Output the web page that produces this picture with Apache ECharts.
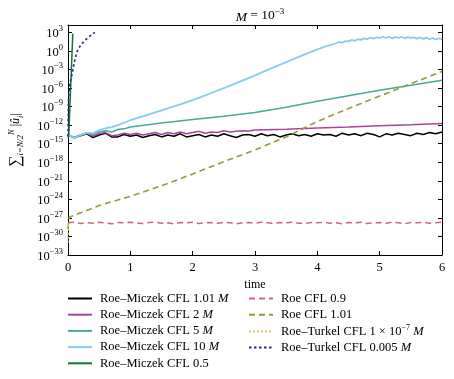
<!DOCTYPE html>
<html><head><meta charset="utf-8">
<script src="https://cdn.jsdelivr.net/npm/echarts@6/dist/echarts.min.js"></script>
<style>html,body{margin:0;padding:0;background:#fff}#c{width:454px;height:379px}</style>
</head><body><div id="c"></div>
<script>
// All values are log10 of sum |u_hat_i|
const tGrid = [0,0.1,0.2,0.3,0.4,0.5,0.6,0.7,0.8,0.9,1.0,1.1,1.2,1.3,1.4,1.5,1.6,1.7,1.8,1.9,2.0,2.1,2.2,2.3,2.4,2.5,2.6,2.7,2.8,2.9,3.0,3.1,3.2,3.3,3.4,3.5,3.6,3.7,3.8,3.9,4.0,4.1,4.2,4.3,4.4,4.5,4.6,4.7,4.8,4.9,5.0,5.1,5.2,5.3,5.4,5.5,5.6,5.7,5.8,5.9,6.0];
const logBlack = [-13.6,-14.1,-13.7,-13.4,-14.0,-13.6,-13.3,-13.9,-13.9,-13.5,-13.8,-13.6,-14.0,-13.7,-13.5,-13.9,-13.6,-13.8,-13.4,-13.9,-13.7,-13.5,-13.9,-13.6,-13.8,-13.4,-13.7,-14.0,-13.6,-13.5,-13.8,-13.4,-13.7,-13.5,-13.9,-13.6,-13.4,-13.7,-13.5,-13.8,-13.4,-13.6,-13.5,-13.8,-13.3,-13.6,-13.4,-13.7,-13.3,-13.5,-13.9,-13.4,-13.6,-13.3,-13.5,-13.7,-13.3,-13.5,-13.2,-13.4,-13.1];
const tMagenta = [0,0.1,0.2,0.3,0.4,0.5,0.6,0.7,0.8,0.9,1.0,1.1,1.2,1.3,1.4,1.5,1.6,1.7,1.8,1.9,2.0,2.1,2.2,2.3,2.4,2.5,2.6,2.7,2.8,2.9,3.0,3.5,4.0,4.5,5.0,5.5,6.0];
const logMagenta = [-13.6,-14.0,-13.6,-13.3,-13.8,-13.4,-13.2,-13.7,-13.6,-13.3,-13.5,-13.3,-13.6,-13.4,-13.2,-13.5,-13.2,-13.4,-13.1,-13.4,-13.2,-13.0,-13.3,-13.1,-13.2,-12.9,-13.1,-13.0,-12.9,-12.95,-12.8,-12.65,-12.45,-12.3,-12.1,-11.95,-11.75];
const tTeal = [0,0.1,0.2,0.3,0.4,0.5,0.6,0.7,0.8,0.9,1.0,1.5,2.0,2.5,3.0,3.5,4.0,4.5,5.0,5.5,6.0];
const logTeal = [-13.6,-14.0,-13.6,-13.3,-13.5,-13.1,-12.9,-13.1,-12.7,-12.6,-12.3,-11.65,-11.1,-10.55,-9.95,-9.1,-8.15,-7.25,-6.35,-5.55,-4.75];
const tCyan = [0,0.1,0.2,0.3,0.4,0.5,0.6,0.7,0.8,1.0,1.25,1.5,1.75,2.0,2.25,2.5,2.75,3.0,3.25,3.5,3.75,4.0,4.15,4.3,4.35,4.4,4.45,4.5,4.55,4.6,4.65,4.7,4.75,4.8,4.85,4.9,4.95,5.0,5.05,5.1,5.15,5.2,5.25,5.3,5.35,5.4,5.45,5.5,5.55,5.6,5.65,5.7,5.75,5.8,5.85,5.9,5.95,6.0];
const logCyan = [-13.5,-14.1,-13.6,-13.2,-13.3,-12.8,-12.5,-12.3,-12.0,-11.2,-10.4,-9.6,-8.8,-7.95,-7.0,-6.0,-5.0,-3.95,-2.85,-1.8,-0.75,0.25,0.8,1.25,1.45,1.35,1.6,1.55,1.8,1.65,1.9,1.8,2.05,1.9,2.15,2.0,2.2,2.1,2.3,2.1,2.3,2.05,2.25,2.1,2.3,2.05,2.25,2.1,2.2,2.0,2.2,1.95,2.15,1.9,2.1,1.85,2.05,1.9];
const tGreen = [0,0.013,0.077];
const logGreen = [-14.0,-13.4,2.8];
const logRose = [-27.8,-27.7,-27.9,-27.75,-27.85,-27.7,-27.8,-27.95,-27.75,-27.8,-27.7,-27.85,-27.9,-27.75,-27.7,-27.85,-27.8,-27.95,-27.75,-27.8,-27.7,-27.9,-27.8,-27.75,-27.85,-27.7,-27.8,-27.95,-27.8,-27.75,-27.85,-27.7,-27.8,-27.9,-27.75,-27.8,-27.7,-27.85,-27.9,-27.75,-27.8,-27.7,-27.85,-27.8,-27.95,-27.75,-27.8,-27.7,-27.9,-27.8,-27.75,-27.85,-27.7,-27.8,-27.95,-27.75,-27.8,-27.7,-27.85,-27.8,-27.7];
const tOlive = [0,0.02,0.5,1.0,1.5,2.0,2.5,3.0,3.5,4.0,4.5,5.0,5.5,6.0];
const logOlive = [-28.8,-26.9,-25.0,-23.5,-21.8,-19.9,-17.9,-16.0,-13.9,-11.4,-9.3,-7.3,-5.3,-3.3];
const tSand = [0,0.003,0.006];
const logSand = [-31,-29.5,-27.8];
const tIndigo = [0,0.005,0.015,0.03,0.06,0.096,0.14,0.2,0.27,0.35,0.43];
const logIndigo = [-13.8,-9.0,-6.8,-5.3,-4.0,-2.1,-0.2,0.9,1.7,2.4,3.0];

const seriesNames = ['Roe–Miczek CFL 1.01 M','Roe–Miczek CFL 2 M','Roe–Miczek CFL 5 M','Roe–Miczek CFL 10 M','Roe–Miczek CFL 0.5','Roe CFL 0.9','Roe CFL 1.01','Roe–Turkel CFL 1 × 10^-7 M','Roe–Turkel CFL 0.005 M'];
const legendRich = {
  'Roe–Miczek CFL 1.01 M':'Roe–Miczek CFL 1.01 {i|M}',
  'Roe–Miczek CFL 2 M':'Roe–Miczek CFL 2 {i|M}',
  'Roe–Miczek CFL 5 M':'Roe–Miczek CFL 5 {i|M}',
  'Roe–Miczek CFL 10 M':'Roe–Miczek CFL 10 {i|M}',
  'Roe–Turkel CFL 1 × 10^-7 M':'Roe–Turkel CFL 1 × 10{sup|−7} {i|M}',
  'Roe–Turkel CFL 0.005 M':'Roe–Turkel CFL 0.005 {i|M}'
};
const colors = ['#000000','#AA4499','#44AA99','#88CCEE','#117733','#CC6677','#999933','#DDCC77','#332288'];

function pairs(t, v){ return t.map((x,i)=>[x, v[i]]); }
const dataSets = [
  pairs(tGrid, logBlack), pairs(tMagenta, logMagenta), pairs(tTeal, logTeal), pairs(tCyan, logCyan),
  pairs(tGreen, logGreen), pairs(tGrid, logRose), pairs(tOlive, logOlive), pairs(tSand, logSand), pairs(tIndigo, logIndigo)
];
const lineTypes = ['solid','solid','solid','solid','solid',[6,4],[6,4],[2,2],[2.5,2.5]];
const widths = [1.5,1.5,1.5,1.8,1.5,1.5,1.6,1.5,1.6];

const FONT = 'Liberation Serif';
const chart = echarts.init(document.getElementById('c'), null, {renderer:'canvas'});
const series = seriesNames.map((n,i)=>({
  name:n, type:'line', data:dataSets[i], symbol:'none', showSymbol:false, animation:false,
  xAxisIndex:0, yAxisIndex:0,
  lineStyle:{color:colors[i], width:widths[i], type:lineTypes[i]},
  itemStyle:{color:colors[i]}, z: 2+i
}));
const legendText = {fontFamily:FONT, fontSize:12.5, color:'#000', padding:[0,0,0,3],
  rich:{i:{fontFamily:FONT, fontSize:12.5, fontStyle:'italic'}, sup:{fontFamily:FONT, fontSize:8, verticalAlign:'top', padding:[0,0,6,0]}}};
const yLabelRich = {
  b:{fontFamily:FONT, fontSize:12.5, color:'#000', verticalAlign:'bottom', lineHeight:16},
  s:{fontFamily:FONT, fontSize:8.5, color:'#000', verticalAlign:'top', lineHeight:16, padding:[0,0,0,0]}
};
function expLabel(v){
  if (Math.abs(v % 3) > 1e-9) return '';
  const e = Math.round(v);
  return '{b|10}{s|' + (e < 0 ? '−' + (-e) : e) + '}';
}
const legendCommon = {orient:'vertical', itemWidth:24, itemHeight:12, itemGap:3.2, padding:0,
  formatter:n=>legendRich[n]||n, textStyle:legendText,
  itemStyle:{opacity:0, borderWidth:0}, lineStyle:{width:2}};
const option = {
  animation:false,
  title:{text:'{i|M} = 10{s|−3}', left:255, top:2, textAlign:'center',
    textStyle:{fontFamily:FONT, fontSize:13.5, fontWeight:'normal', color:'#000',
      rich:{i:{fontFamily:FONT, fontSize:13.5, fontStyle:'italic', verticalAlign:'bottom', lineHeight:17},
            s:{fontFamily:FONT, fontSize:9, verticalAlign:'top', lineHeight:17}}}},
  grid:{left:68, right:12, top:25, bottom:124, show:false, containLabel:false, outerBoundsMode:'none'},
  legend:[
    Object.assign({data:seriesNames.slice(0,5), left:67, top:292}, legendCommon),
    Object.assign({data:seriesNames.slice(5), left:248, top:292}, legendCommon)
  ],
  xAxis:[
    {type:'value', min:0, max:6, interval:1, position:'bottom', name:'time', nameLocation:'middle', nameGap:24,
     nameTextStyle:{fontFamily:FONT, fontSize:12, color:'#000'},
     axisLine:{onZero:false, lineStyle:{color:'#000', width:1}},
     axisTick:{inside:true, length:4, lineStyle:{color:'#000'}},
     axisLabel:{fontFamily:FONT, fontSize:12.5, color:'#000', margin:6},
     splitLine:{show:false}},
    {type:'value', min:0, max:6, interval:1, position:'top',
     axisLine:{onZero:false, lineStyle:{color:'#000', width:1}},
     axisTick:{inside:true, length:4, lineStyle:{color:'#000'}},
     axisLabel:{show:false}, splitLine:{show:false}}
  ],
  yAxis:[
    {type:'value', min:-33, max:4.2, interval:3, position:'left',
     name:'{s|∑}{sub|i=N/2}{sup|N} {t||}{it|û}{sub|i}{t||}', nameLocation:'middle', nameGap:43,
     nameTextStyle:{fontFamily:FONT, color:'#000',
       rich:{s:{fontFamily:FONT, fontSize:16, verticalAlign:'middle', lineHeight:18},
             sub:{fontFamily:FONT, fontSize:8.5, fontStyle:'italic', verticalAlign:'bottom', lineHeight:18},
             sup:{fontFamily:FONT, fontSize:8.5, fontStyle:'italic', verticalAlign:'top', lineHeight:18},
             t:{fontFamily:FONT, fontSize:12, verticalAlign:'middle', lineHeight:18},
             it:{fontFamily:FONT, fontSize:12, fontStyle:'italic', verticalAlign:'middle', lineHeight:18}}},
     axisLine:{onZero:false, lineStyle:{color:'#000', width:1}},
     axisTick:{inside:true, length:4, lineStyle:{color:'#000'}},
     axisLabel:{formatter:expLabel, rich:yLabelRich, margin:5, showMaxLabel:false},
     splitLine:{show:false}},
    {type:'value', min:-33, max:4.2, interval:3, position:'right',
     axisLine:{onZero:false, lineStyle:{color:'#000', width:1}},
     axisTick:{inside:true, length:4, lineStyle:{color:'#000'}},
     axisLabel:{show:false}, splitLine:{show:false}}
  ],
  series: series
};
chart.setOption(option);
</script></body></html>
